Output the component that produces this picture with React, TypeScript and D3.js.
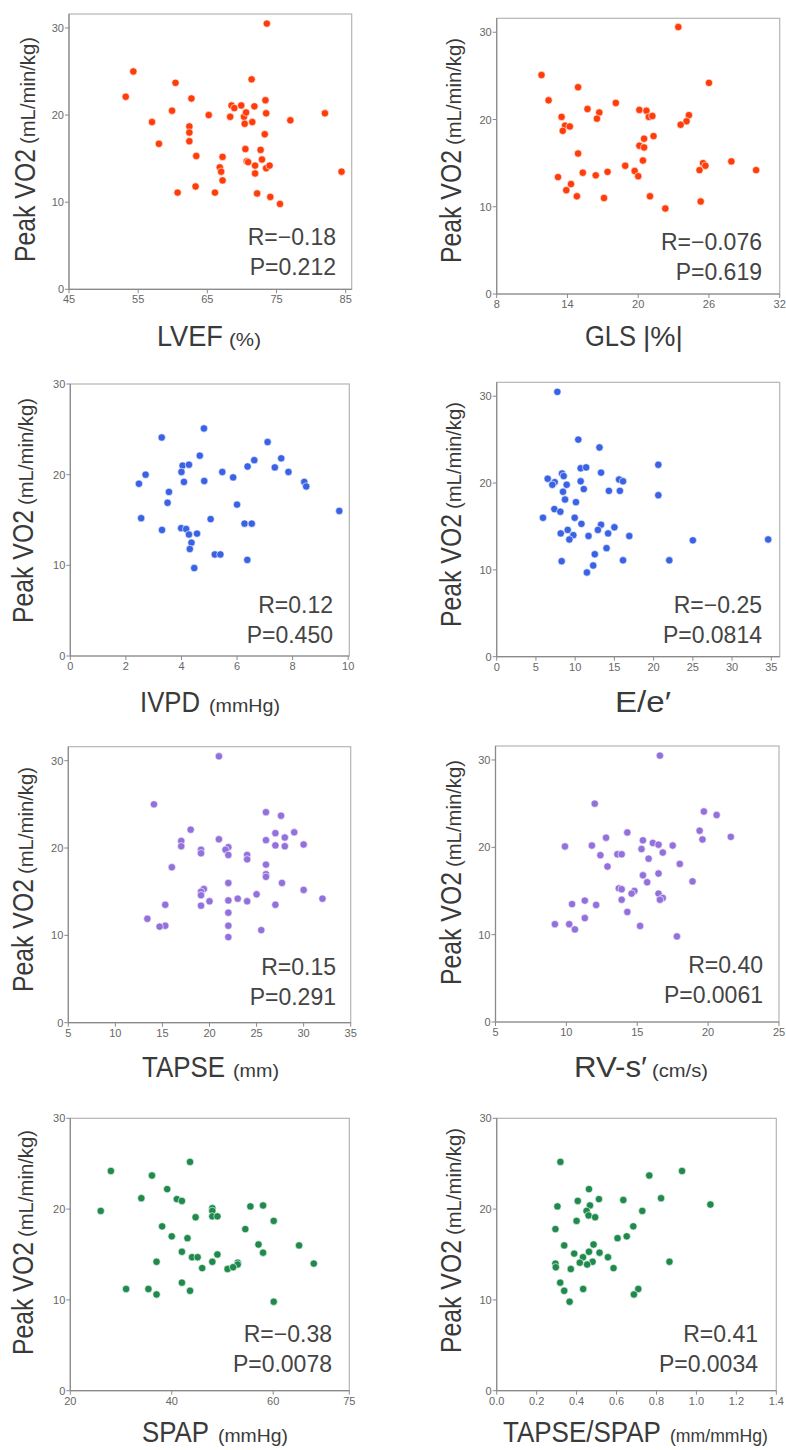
import React from 'react';
import * as d3 from 'd3';

// ---------- data ----------
const yTicks = [0, 10, 20, 30];

const lvefX = [73.6, 54.3, 53.2, 60.4, 71.4, 62.7, 59.9, 65.2, 57.0, 58.0, 62.4, 62.4, 62.4, 63.4, 63.3, 60.7, 66.1, 66.8, 67.0, 67.2, 67.2, 68.3, 68.5, 68.9, 69.9, 70.3, 70.6, 70.4, 71.5, 71.8, 73.4, 73.5, 70.5, 72.7, 73.3, 70.7, 70.9, 72.9, 71.9, 71.9, 73.5, 74.0, 72.2, 74.1, 75.5, 77.0, 82.0, 84.4];
const lvefY = [30.5, 25.0, 22.1, 23.7, 24.1, 21.9, 20.5, 20.0, 19.2, 16.7, 18.7, 18.0, 17.0, 15.3, 11.8, 11.1, 11.1, 14.0, 13.5, 15.2, 12.5, 19.8, 21.1, 20.8, 21.1, 19.8, 20.3, 19.0, 19.2, 21.0, 21.7, 20.2, 16.1, 16.0, 17.8, 14.7, 14.6, 14.9, 14.2, 13.3, 13.9, 14.2, 11.0, 10.6, 9.8, 19.4, 20.2, 13.5];

const glsX = [23.4, 11.8, 12.4, 14.9, 26.0, 18.1, 15.7, 16.7, 16.5, 13.5, 13.8, 14.2, 13.6, 20.1, 20.7, 20.9, 21.2, 24.3, 24.1, 23.6, 20.5, 21.3, 20.1, 20.5, 14.9, 20.4, 18.9, 19.7, 20.0, 17.4, 16.4, 15.3, 13.2, 14.3, 13.9, 14.8, 17.1, 21.0, 22.3, 25.3, 25.2, 25.5, 25.7, 27.9, 30.0];
const glsY = [30.6, 25.1, 22.2, 23.7, 24.2, 21.9, 21.2, 20.8, 20.1, 20.3, 19.3, 19.2, 18.7, 21.1, 21.0, 20.3, 20.4, 20.5, 19.8, 19.4, 17.8, 18.1, 17.0, 16.8, 16.1, 15.3, 14.7, 14.1, 13.5, 14.0, 13.6, 13.9, 13.4, 12.6, 11.9, 11.2, 11.0, 11.2, 9.8, 10.6, 14.2, 15.0, 14.7, 15.2, 14.2];

const ivpdX = [4.81, 3.29, 7.10, 4.66, 7.59, 6.62, 4.04, 4.27, 6.38, 7.36, 2.71, 4.00, 5.47, 7.85, 5.86, 4.82, 2.47, 4.09, 8.42, 8.49, 3.55, 3.50, 6.00, 9.68, 2.55, 5.05, 6.27, 6.53, 3.30, 3.99, 4.17, 4.27, 4.56, 4.36, 4.30, 5.20, 5.40, 6.37, 4.46];
const ivpdY = [25.1, 24.1, 23.6, 22.1, 21.8, 21.6, 21.0, 21.1, 20.9, 20.8, 20.0, 20.3, 20.3, 20.3, 19.7, 19.3, 19.0, 19.2, 19.2, 18.7, 18.1, 16.9, 16.7, 16.0, 15.2, 15.1, 14.6, 14.6, 13.9, 14.1, 14.0, 13.4, 13.5, 12.5, 11.8, 11.2, 11.2, 10.6, 9.7];

const eeX = [7.73, 10.4, 13.1, 20.6, 10.7, 11.4, 13.3, 8.33, 8.54, 6.50, 7.39, 7.09, 8.92, 10.7, 15.6, 16.1, 11.1, 8.45, 14.3, 15.7, 20.6, 8.71, 10.1, 7.35, 8.11, 5.90, 9.94, 10.8, 13.3, 15.0, 12.9, 9.05, 8.16, 9.77, 11.7, 14.2, 16.9, 9.26, 14.0, 12.5, 12.3, 16.1, 8.28, 11.5, 22.0, 25.0, 34.6];
const eeY = [30.5, 25.0, 24.1, 22.1, 21.7, 21.8, 21.2, 21.1, 20.8, 20.5, 20.1, 19.8, 19.8, 20.2, 20.4, 20.2, 19.3, 19.0, 19.1, 19.1, 18.6, 18.1, 17.8, 17.0, 16.7, 16.0, 16.0, 15.3, 15.2, 14.9, 14.6, 14.6, 14.2, 14.0, 13.9, 14.2, 13.9, 13.5, 12.5, 11.8, 10.5, 11.1, 11.0, 9.7, 11.1, 13.4, 13.5];

const tapseX = [21.0, 14.1, 26.0, 27.6, 18.0, 29.0, 27.0, 28.0, 21.0, 26.0, 17.0, 17.0, 22.0, 21.7, 19.1, 19.1, 22.0, 24.0, 24.0, 27.0, 28.0, 30.0, 26.0, 16.0, 26.0, 26.0, 22.0, 27.7, 19.4, 19.1, 19.1, 30.0, 25.0, 20.0, 22.0, 23.0, 24.0, 32.0, 15.3, 19.1, 27.0, 22.0, 13.4, 15.3, 14.7, 22.0, 25.5, 22.0];
const tapseY = [30.5, 25.0, 24.1, 23.7, 22.1, 21.8, 21.7, 21.2, 21.0, 20.9, 20.8, 20.2, 20.1, 19.8, 19.8, 19.4, 19.2, 19.2, 18.7, 20.3, 20.2, 20.4, 18.1, 17.8, 17.0, 16.7, 16.0, 16.0, 15.3, 15.0, 14.6, 15.2, 14.7, 13.9, 14.0, 14.2, 13.9, 14.2, 13.5, 13.4, 13.5, 12.6, 11.9, 11.1, 11.0, 11.1, 10.6, 9.8];

const rvsX = [16.6, 12.0, 19.7, 20.6, 19.4, 14.3, 21.6, 12.8, 19.6, 15.4, 16.1, 16.5, 17.5, 11.8, 9.9, 15.3, 16.8, 12.4, 13.6, 13.9, 15.8, 18.0, 12.9, 15.4, 16.5, 18.9, 15.7, 13.7, 13.9, 14.8, 14.6, 16.5, 16.8, 16.6, 13.9, 11.3, 10.4, 12.1, 14.3, 11.3, 9.19, 10.2, 10.6, 15.2, 17.8];
const rvsY = [30.5, 25.0, 24.1, 23.7, 21.9, 21.7, 21.2, 21.1, 20.9, 20.8, 20.5, 20.3, 20.2, 20.2, 20.1, 19.8, 19.4, 19.1, 19.2, 19.2, 18.7, 18.1, 17.8, 16.8, 17.0, 16.1, 16.0, 15.3, 15.2, 15.0, 14.7, 14.7, 14.2, 14.0, 14.0, 13.9, 13.5, 13.4, 12.6, 11.9, 11.2, 11.2, 10.6, 11.0, 9.8];

const spapX = [43.6, 28.0, 36.1, 39.1, 34.0, 41.0, 42.0, 26.0, 48.0, 48.0, 55.5, 58.0, 44.7, 48.0, 49.0, 60.1, 38.1, 54.5, 40.0, 43.1, 57.1, 65.1, 42.0, 58.0, 49.0, 44.0, 45.1, 37.0, 48.0, 53.0, 53.0, 68.0, 46.0, 51.0, 52.1, 42.0, 31.0, 35.4, 43.6, 37.0, 60.1];
const spapY = [25.2, 24.2, 23.7, 22.2, 21.2, 21.1, 20.9, 19.8, 20.1, 19.8, 20.3, 20.4, 19.1, 19.2, 19.2, 18.7, 18.1, 17.8, 17.0, 16.8, 16.1, 16.0, 15.3, 15.2, 15.0, 14.7, 14.7, 14.2, 14.2, 14.1, 13.9, 14.0, 13.5, 13.4, 13.6, 11.9, 11.2, 11.2, 11.0, 10.6, 9.8];

const ratioX = [0.319, 0.928, 0.764, 0.462, 0.823, 0.512, 0.634, 0.406, 0.304, 0.467, 1.070, 0.450, 0.729, 0.460, 0.493, 0.400, 0.684, 0.294, 0.651, 0.605, 0.338, 0.485, 0.462, 0.515, 0.388, 0.557, 0.432, 0.416, 0.480, 0.453, 0.865, 0.294, 0.296, 0.371, 0.585, 0.318, 0.338, 0.433, 0.709, 0.687, 0.365];
const ratioY = [25.2, 24.2, 23.7, 22.2, 21.2, 21.1, 21.0, 20.9, 20.3, 20.4, 20.5, 19.8, 19.8, 19.3, 19.1, 18.7, 18.1, 17.8, 17.0, 16.8, 16.0, 16.1, 15.3, 15.2, 15.1, 14.7, 14.7, 14.1, 14.2, 13.9, 14.2, 14.0, 13.6, 13.4, 13.5, 11.9, 11.0, 11.2, 11.2, 10.6, 9.8];

const lvefTicks = [45, 55, 65, 75, 85];
const glsTicks = [8, 14, 20, 26, 32];
const ivpdTicks = [0, 2, 4, 6, 8, 10];
const eeTicks = [0, 5, 10, 15, 20, 25, 30, 35];
const tapseTicks = [5, 10, 15, 20, 25, 30, 35];
const rvsTicks = [5, 10, 15, 20, 25];
const spapTicks = [20, 40, 60, 75];
const ratioTicks = [0, 0.2, 0.4, 0.6, 0.8, 1.0, 1.2, 1.4];

const rLabels = ['R=\u22120.18', 'R=\u22120.076', 'R=0.12', 'R=\u22120.25', 'R=0.15', 'R=0.40', 'R=\u22120.38', 'R=0.41'];
const pLabels = ['P=0.212', 'P=0.619', 'P=0.450', 'P=0.0814', 'P=0.291', 'P=0.0061', 'P=0.0078', 'P=0.0034'];

const xMain = ['LVEF', 'GLS', 'IVPD', 'E/e\u2032', 'TAPSE', 'RV-s\u2032', 'SPAP', 'TAPSE/SPAP'];
const xUnit = ['(%)', '|%|', '(mmHg)', '', '(mm)', '(cm/s)', '(mmHg)', '(mm/mmHg)'];

const colors = ['#ff3d0a', '#ff3d0a', '#3a62e4', '#3a62e4', '#9370db', '#9370db', '#1f8a4c', '#1f8a4c'];

// ---------- layout ----------
type Panel = {
  xs: number[]; ys: number[]; ticks: number[]; fmt: (v: number) => string;
  l: number; r: number; t: number; b: number; xd: [number, number]; yMax: number;
  yLabX: number; yLabY: number; statX: number; statY: number;
  mainX: number; mainW: number; unitX: number; unitW: number; titleY: number;
};

const intFmt = (v: number) => String(v);
const decFmt = (v: number) => d3.format('.1f')(v);

const panels: Panel[] = [
  { xs: lvefX, ys: lvefY, ticks: lvefTicks, fmt: intFmt, l: 69, r: 351.7, t: 14, b: 289.3, xd: [45, 85.87], yMax: 31.6, yLabX: 35, yLabY: 262, statX: 336, statY: 245, mainX: 157, mainW: 66, unitX: 229, unitW: 32, titleY: 346 },
  { xs: glsX, ys: glsY, ticks: glsTicks, fmt: intFmt, l: 496.7, r: 779.7, t: 18.3, b: 294, xd: [8, 32], yMax: 31.6, yLabX: 461, yLabY: 263, statX: 762, statY: 250, mainX: 585, mainW: 51, unitX: 643, unitW: 40, titleY: 346 },
  { xs: ivpdX, ys: ivpdY, ticks: ivpdTicks, fmt: intFmt, l: 70.3, r: 349.3, t: 384, b: 656, xd: [0, 10.04], yMax: 30, yLabX: 33, yLabY: 623, statX: 333, statY: 613, mainX: 140, mainW: 60, unitX: 209, unitW: 71, titleY: 712 },
  { xs: eeX, ys: eeY, ticks: eeTicks, fmt: intFmt, l: 496.7, r: 779.7, t: 382.3, b: 656.7, xd: [0, 36.07], yMax: 31.6, yLabX: 461, yLabY: 627, statX: 762, statY: 613, mainX: 615, mainW: 56, unitX: 0, unitW: 0, titleY: 712 },
  { xs: tapseX, ys: tapseY, ticks: tapseTicks, fmt: intFmt, l: 68.3, r: 350.7, t: 746.7, b: 1022.7, xd: [5, 35], yMax: 31.6, yLabX: 33, yLabY: 992, statX: 336, statY: 975, mainX: 142, mainW: 83, unitX: 233, unitW: 46, titleY: 1077 },
  { xs: rvsX, ys: rvsY, ticks: rvsTicks, fmt: intFmt, l: 495.5, r: 779, t: 746, b: 1022, xd: [5, 25], yMax: 31.6, yLabX: 461, yLabY: 985, statX: 763, statY: 973, mainX: 574, mainW: 73, unitX: 652, unitW: 56, titleY: 1077 },
  { xs: spapX, ys: spapY, ticks: spapTicks, fmt: intFmt, l: 70.3, r: 349.3, t: 1118.3, b: 1390.7, xd: [20, 75], yMax: 30, yLabX: 33, yLabY: 1355, statX: 332, statY: 1342, mainX: 142, mainW: 67, unitX: 218, unitW: 70, titleY: 1442 },
  { xs: ratioX, ys: ratioY, ticks: ratioTicks, fmt: decFmt, l: 496.7, r: 776.3, t: 1118.3, b: 1390.7, xd: [0, 1.4], yMax: 30, yLabX: 461, yLabY: 1353, statX: 758, statY: 1342, mainX: 503, mainW: 158, unitX: 670, unitW: 98, titleY: 1442 },
];

const SANS = "'Liberation Sans', Arial, Helvetica, sans-serif";

let measureCtx: CanvasRenderingContext2D | null = null;
function measure(text: string, size: number): number {
  if (!measureCtx) measureCtx = document.createElement('canvas').getContext('2d');
  if (!measureCtx) return text.length * size * 0.55;
  measureCtx.font = `${size}px ${SANS}`;
  return measureCtx.measureText(text).width;
}

// Text condensed horizontally (along its own direction) to a target width
function FitText({ x, y, text, size, width, fill = '#3a3a3a' }: { x: number; y: number; text: string; size: number; width: number; fill?: string }) {
  const natural = measure(text, size);
  const sx = natural > 0 ? width / natural : 1;
  return (
    <g transform={`translate(${x},${y}) scale(${sx},1)`}>
      <text x={0} y={0} fontSize={size} fill={fill} fontFamily={SANS}>{text}</text>
    </g>
  );
}

function ScatterPanel({ p, i }: { p: Panel; i: number }) {
  const x = d3.scaleLinear().domain(p.xd).range([p.l, p.r]);
  const y = d3.scaleLinear().domain([0, p.yMax]).range([p.b, p.t]);
  const tickCol = '#666';
  return (
    <g>
      <rect x={p.l} y={p.t} width={p.r - p.l} height={p.b - p.t} fill="white" stroke="#b5b5b5" strokeWidth={1.2} />
      <line x1={p.l} x2={p.l} y1={p.t} y2={p.b} stroke="#8a8a8a" strokeWidth={1.2} />
      <line x1={p.l} x2={p.r} y1={p.b} y2={p.b} stroke="#8a8a8a" strokeWidth={1.2} />
      {yTicks.map((v) => (
        <g key={'y' + v}>
          <line x1={p.l - 4} x2={p.l} y1={y(v)} y2={y(v)} stroke="#8a8a8a" />
          <text x={p.l - 5} y={y(v) + 4} textAnchor="end" fontSize={11} fill={tickCol} fontFamily={SANS}>{v}</text>
        </g>
      ))}
      {p.ticks.map((v) => (
        <g key={'x' + v}>
          <line x1={x(v)} x2={x(v)} y1={p.b} y2={p.b + 4} stroke="#8a8a8a" />
          <text x={x(v)} y={p.b + 14} textAnchor="middle" fontSize={11} fill={tickCol} fontFamily={SANS}>{p.fmt(v)}</text>
        </g>
      ))}
      {p.xs.map((xv, k) => (
        <circle key={k} cx={x(xv)} cy={y(p.ys[k])} r={3.7} fill={colors[i]} stroke="white" strokeWidth={0.6} />
      ))}
      <text x={p.statX} y={p.statY} textAnchor="end" fontSize={23} fill="#444" fontFamily={SANS}>{rLabels[i]}</text>
      <text x={p.statX} y={p.statY + 30} textAnchor="end" fontSize={23} fill="#444" fontFamily={SANS}>{pLabels[i]}</text>
      <g transform={`translate(${p.yLabX},${p.yLabY}) rotate(-90)`}>
        <FitText x={0} y={0} text="Peak VO2" size={29} width={113} />
        <FitText x={118} y={0} text="(mL/min/kg)" size={20} width={107} />
      </g>
      <FitText x={p.mainX} y={p.titleY} text={xMain[i]} size={30} width={p.mainW} />
      {xUnit[i] && (
        <FitText x={p.unitX} y={p.titleY} text={xUnit[i]} size={xUnit[i] === '|%|' ? 27 : 19} width={p.unitW} />
      )}
    </g>
  );
}

export default function App() {
  return (
    <svg width={786} height={1450} style={{ position: 'absolute', left: 0, top: 0, background: 'white' }}>
      <rect x={0} y={0} width={786} height={1450} fill="white" />
      {panels.map((p, i) => (
        <ScatterPanel key={i} p={p} i={i} />
      ))}
    </svg>
  );
}
